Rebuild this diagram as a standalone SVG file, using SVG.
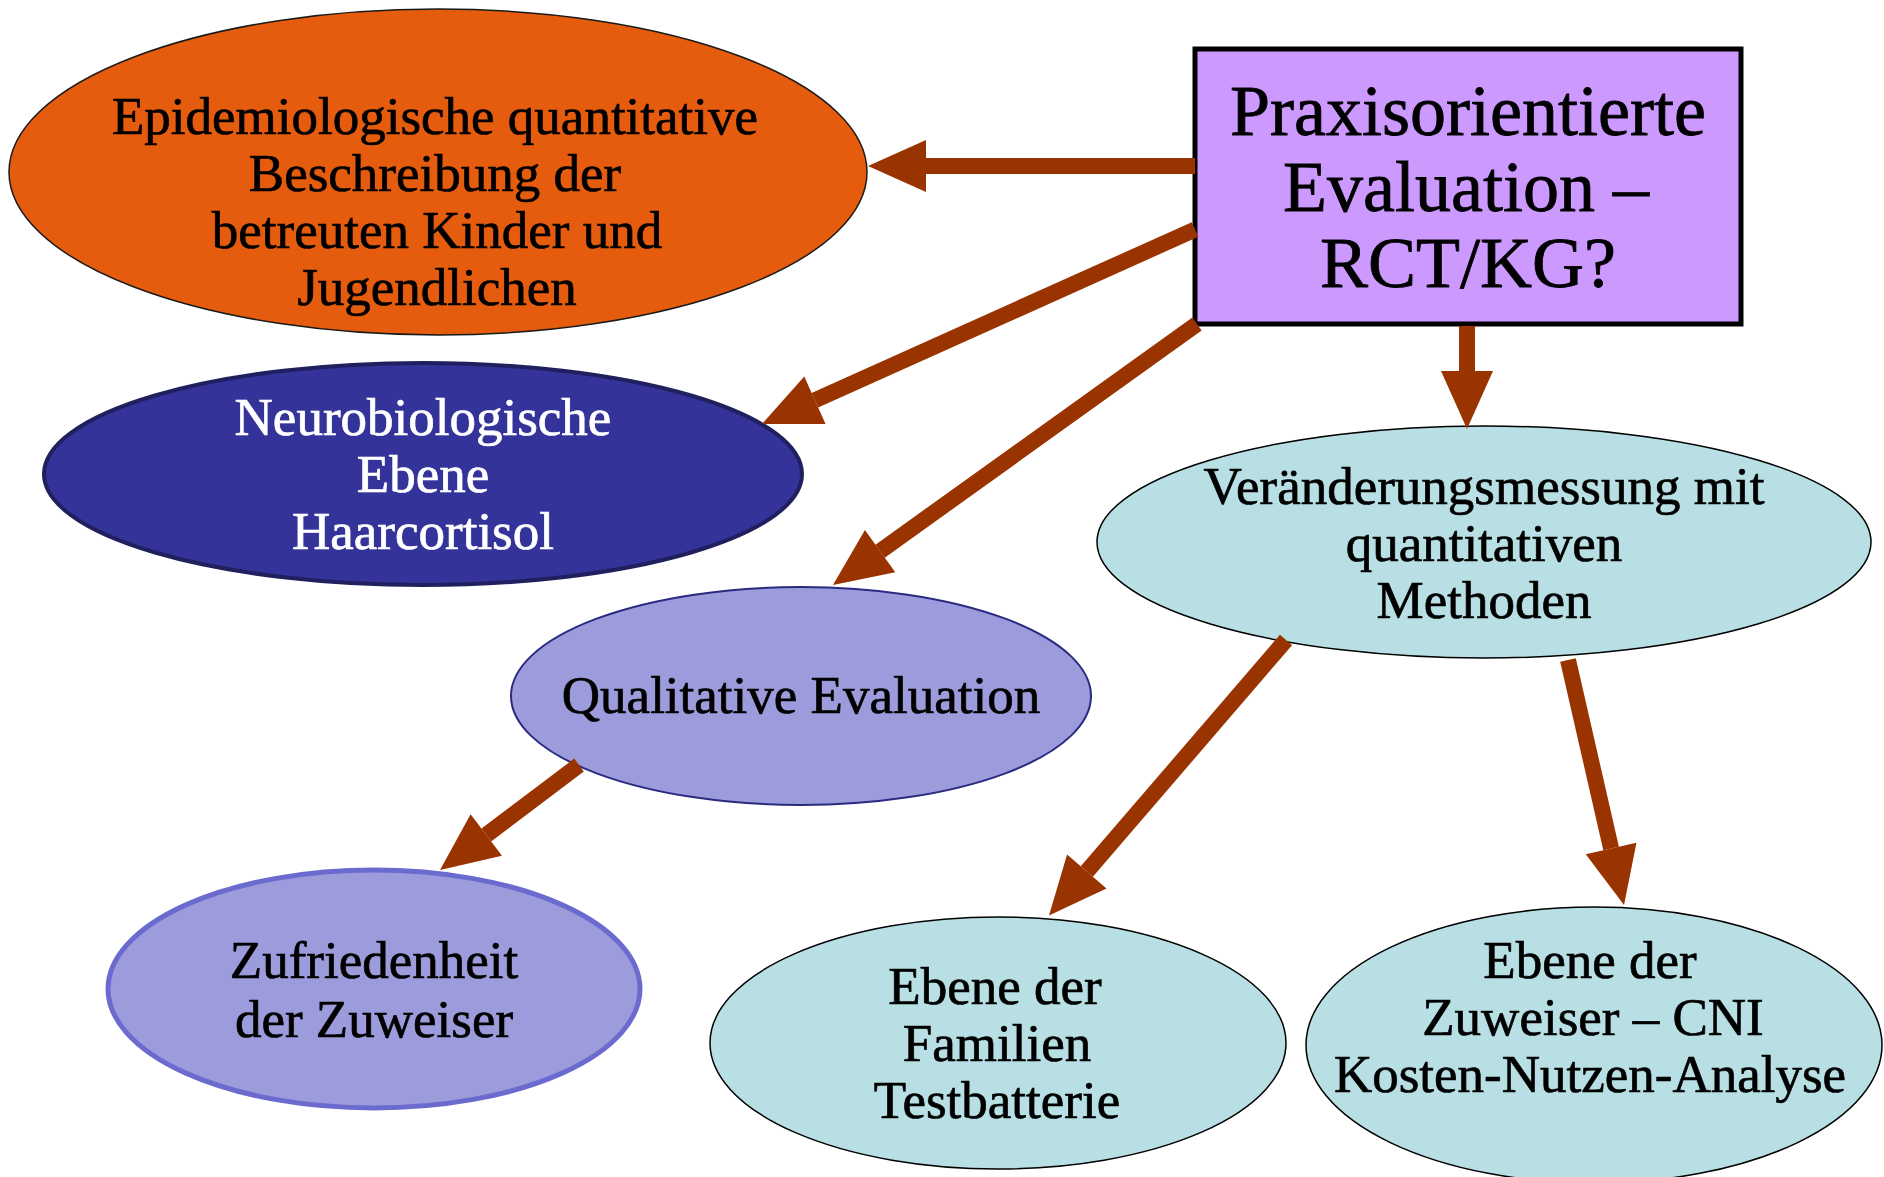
<svg xmlns="http://www.w3.org/2000/svg" width="1884" height="1177" viewBox="0 0 1884 1177">
  <style>
    text { font-family: "Liberation Serif", "Times New Roman", serif; text-anchor: middle; }
    .t { font-size: 53px; fill: #000; stroke: #000; stroke-width: 0.7; }
    .w { font-size: 53px; fill: #fff; stroke: #fff; stroke-width: 0.7; }
    .title { font-size: 72px; fill: #000; stroke: #000; stroke-width: 0.8; }
    .arrow { stroke: #993300; stroke-width: 16; fill: none; stroke-linecap: butt; marker-end: url(#head); }
  </style>
  <defs>
    <!-- triangular arrowhead, base at the line end -->
    <marker id="head" markerUnits="userSpaceOnUse" markerWidth="58" markerHeight="52" refX="0" refY="26" orient="auto" overflow="visible">
      <path d="M0,0 L58,26 L0,52 Z" fill="#993300"/>
    </marker>
  </defs>
  <rect width="1884" height="1177" fill="#fff"/>

  <g id="epidemiologie">
    <ellipse cx="438" cy="172" rx="429" ry="163" fill="#E65C0E" stroke="#1a1a1a" stroke-width="1.5"/>
    <text class="t" x="435" y="134">Epidemiologische quantitative</text>
    <text class="t" x="435" y="191">Beschreibung der</text>
    <text class="t" x="437" y="248">betreuten Kinder und</text>
    <text class="t" x="437" y="305">Jugendlichen</text>
  </g>

  <g id="praxis">
    <rect x="1195" y="49" width="546" height="275" fill="#CC99FF" stroke="#000" stroke-width="5"/>
    <text class="title" x="1468" y="135">Praxisorientierte</text>
    <text class="title" x="1466" y="211">Evaluation –</text>
    <text class="title" x="1468" y="287">RCT/KG?</text>
  </g>

  <g id="neurobiologie">
    <ellipse cx="423" cy="474" rx="379" ry="111" fill="#333399" stroke="#20205E" stroke-width="4"/>
    <text class="w" x="423" y="435">Neurobiologische</text>
    <text class="w" x="423" y="492">Ebene</text>
    <text class="w" x="423" y="549">Haarcortisol</text>
  </g>

  <g id="qualitativ">
    <ellipse cx="801" cy="696" rx="290" ry="109" fill="#9C9CDC" stroke="#2A2A80" stroke-width="2"/>
    <text class="t" x="801" y="713">Qualitative Evaluation</text>
  </g>

  <g id="veraenderung">
    <ellipse cx="1484" cy="542" rx="387" ry="116" fill="#B8DFE3" stroke="#000" stroke-width="1.5"/>
    <text class="t" x="1484" y="504">Veränderungsmessung mit</text>
    <text class="t" x="1484" y="561">quantitativen</text>
    <text class="t" x="1484" y="618">Methoden</text>
  </g>

  <g id="zufriedenheit">
    <ellipse cx="374" cy="989" rx="266" ry="119" fill="#9C9CDC" stroke="#6B6BCF" stroke-width="5"/>
    <text class="t" x="374" y="978">Zufriedenheit</text>
    <text class="t" x="374" y="1037">der Zuweiser</text>
  </g>

  <g id="familien">
    <ellipse cx="998" cy="1043" rx="288" ry="126" fill="#B8DFE3" stroke="#000" stroke-width="1.5"/>
    <text class="t" x="995" y="1004">Ebene der</text>
    <text class="t" x="997" y="1061">Familien</text>
    <text class="t" x="997" y="1118">Testbatterie</text>
  </g>

  <g id="zuweiser">
    <ellipse cx="1594" cy="1045" rx="288" ry="138" fill="#B8DFE3" stroke="#000" stroke-width="1.5"/>
    <text class="t" x="1590" y="978">Ebene der</text>
    <text class="t" x="1593" y="1035">Zuweiser – CNI</text>
    <text class="t" x="1590" y="1092">Kosten-Nutzen-Analyse</text>
  </g>

  <g id="connectors">
    <path class="arrow" d="M1195,166 L926,166"/>
    <path class="arrow" d="M1195,229.5 L814.9,400.2"/>
    <path class="arrow" d="M1197,324 L880.1,551.2"/>
    <path class="arrow" d="M1467,326 L1467,371"/>
    <path class="arrow" d="M579,765 L486.3,835"/>
    <path class="arrow" d="M1286,640 L1086.8,871.5"/>
    <path class="arrow" d="M1568,660 L1611.1,848.5"/>
  </g>
</svg>
